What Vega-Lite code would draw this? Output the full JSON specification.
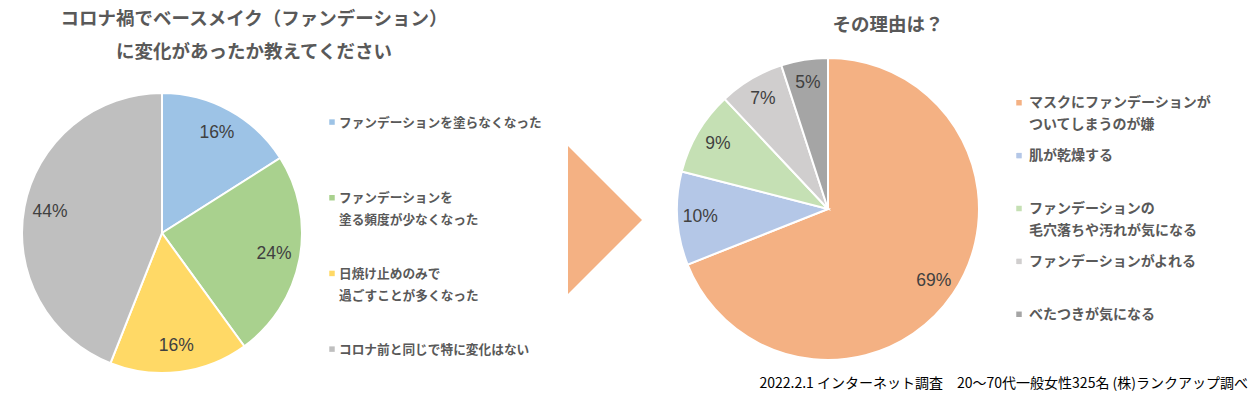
{
  "$schema": "https://vega.github.io/schema/vega-lite/v6.json",
  "padding": {"left": 0, "top": 9, "right": 8, "bottom": 0},
  "background": "white",
  "bounds": "flush",
  "spacing": 0,
  "datasets": {
    "left": [
      {"idx": 1, "cat": "ファンデーションを塗らなくなった", "value": 0.16},
      {"idx": 2, "cat": "ファンデーションを\n塗る頻度が少なくなった", "value": 0.24},
      {"idx": 3, "cat": "日焼け止めのみで\n過ごすことが多くなった", "value": 0.16},
      {"idx": 4, "cat": "コロナ前と同じで特に変化はない", "value": 0.44}
    ],
    "right": [
      {"idx": 1, "cat": "マスクにファンデーションが\nついてしまうのが嫌", "value": 0.69},
      {"idx": 2, "cat": "肌が乾燥する", "value": 0.10},
      {"idx": 3, "cat": "ファンデーションの\n毛穴落ちや汚れが気になる", "value": 0.09},
      {"idx": 4, "cat": "ファンデーションがよれる", "value": 0.07},
      {"idx": 5, "cat": "べたつきが気になる", "value": 0.05}
    ],
    "arrow": [{"item": "arrow"}]
  },
  "hconcat": [
    {
      "width": 324,
      "height": 324,
      "title": {
        "text": ["コロナ禍でベースメイク（ファンデーション）", "に変化があったか教えてください"],
        "fontSize": 18.5, "lineHeight": 33, "fontWeight": "bold", "color": "#595959",
        "font": "Noto Sans CJK JP", "offset": 10, "dx": 92, "frame": "group", "anchor": "middle"
      },
      "data": {"name": "left"},
      "encoding": {
        "theta": {"field": "value", "type": "quantitative", "stack": true},
        "order": {"field": "idx", "type": "quantitative"}
      },
      "layer": [
        {
          "mark": {"type": "arc", "outerRadius": 140, "stroke": "white", "strokeWidth": 2},
          "encoding": {
            "color": {
              "field": "cat", "type": "nominal", "legend": null,
              "scale": {
                "domain": ["ファンデーションを塗らなくなった", "ファンデーションを\n塗る頻度が少なくなった", "日焼け止めのみで\n過ごすことが多くなった", "コロナ前と同じで特に変化はない"],
                "range": ["#9DC3E6", "#A9D18E", "#FFD966", "#BFBFBF"]
              }
            }
          }
        },
        {
          "mark": {"type": "text", "radius": 114, "fontSize": 17.5, "font": "Liberation Sans", "color": "#404040"},
          "encoding": {"text": {"field": "value", "type": "quantitative", "format": ".0%"}}
        }
      ]
    },
    {
      "width": 236,
      "height": 300,
      "data": {"name": "left"},
      "encoding": {
        "y": {"field": "idx", "type": "ordinal", "axis": null, "scale": {"type": "point", "padding": 0.482, "align": 0.7}}
      },
      "layer": [
        {
          "mark": {"type": "point", "shape": "square", "filled": true, "size": 30, "opacity": 1, "xOffset": -110},
          "encoding": {
            "color": {
              "field": "cat", "type": "nominal", "legend": null,
              "scale": {
                "domain": ["ファンデーションを塗らなくなった", "ファンデーションを\n塗る頻度が少なくなった", "日焼け止めのみで\n過ごすことが多くなった", "コロナ前と同じで特に変化はない"],
                "range": ["#9DC3E6", "#A9D18E", "#FFD966", "#BFBFBF"]
              }
            }
          }
        },
        {
          "mark": {"type": "text", "align": "left", "baseline": "alphabetic", "dx": -103, "dy": 4.5, "fontSize": 12.7, "fontWeight": "bold", "color": "#595959", "font": "Noto Sans CJK JP", "lineBreak": "\n", "lineHeight": 22},
          "encoding": {"text": {"field": "cat"}}
        }
      ]
    },
    {
      "width": 90,
      "height": 298,
      "data": {"name": "arrow"},
      "mark": {"type": "point", "shape": "M-0.5,-1L0.5,0L-0.5,1Z", "size": 21904, "filled": true, "color": "#F4B183", "opacity": 1},
      "encoding": {}
    },
    {
      "width": 356,
      "height": 276,
      "title": {
        "text": "その理由は？",
        "fontSize": 18.5, "fontWeight": "bold", "color": "#595959",
        "font": "Noto Sans CJK JP", "offset": 20, "dx": 60, "frame": "group", "anchor": "middle"
      },
      "data": {"name": "right"},
      "encoding": {
        "theta": {"field": "value", "type": "quantitative", "stack": true},
        "order": {"field": "idx", "type": "quantitative"}
      },
      "layer": [
        {
          "mark": {"type": "arc", "outerRadius": 151, "stroke": "white", "strokeWidth": 2},
          "encoding": {
            "color": {
              "field": "cat", "type": "nominal", "legend": null,
              "scale": {
                "domain": ["マスクにファンデーションが\nついてしまうのが嫌", "肌が乾燥する", "ファンデーションの\n毛穴落ちや汚れが気になる", "ファンデーションがよれる", "べたつきが気になる"],
                "range": ["#F4B183", "#B4C7E7", "#C5E0B4", "#D0CECE", "#A5A5A5"]
              }
            }
          }
        },
        {
          "mark": {"type": "text", "radius": 128, "fontSize": 17.5, "font": "Liberation Sans", "color": "#404040"},
          "encoding": {"text": {"field": "value", "type": "quantitative", "format": ".0%"}}
        }
      ]
    },
    {
      "width": 242,
      "height": 275,
      "title": {
        "text": "2022.2.1 インターネット調査　20～70代一般女性325名 (株)ランクアップ調べ",
        "orient": "bottom", "anchor": "end", "frame": "group", "offset": 31,
        "fontSize": 14, "fontWeight": "normal", "color": "#000000", "font": "Noto Sans CJK JP"
      },
      "data": {"name": "right"},
      "encoding": {
        "y": {"field": "idx", "type": "ordinal", "axis": null, "scale": {"type": "point", "padding": 0.6, "align": 0.5}}
      },
      "layer": [
        {
          "mark": {"type": "point", "shape": "square", "filled": true, "size": 30, "opacity": 1, "xOffset": -108},
          "encoding": {
            "color": {
              "field": "cat", "type": "nominal", "legend": null,
              "scale": {
                "domain": ["マスクにファンデーションが\nついてしまうのが嫌", "肌が乾燥する", "ファンデーションの\n毛穴落ちや汚れが気になる", "ファンデーションがよれる", "べたつきが気になる"],
                "range": ["#F4B183", "#B4C7E7", "#C5E0B4", "#D0CECE", "#A5A5A5"]
              }
            }
          }
        },
        {
          "mark": {"type": "text", "align": "left", "baseline": "alphabetic", "dx": -98, "dy": 4.5, "fontSize": 14, "fontWeight": "bold", "color": "#595959", "font": "Noto Sans CJK JP", "lineBreak": "\n", "lineHeight": 22},
          "encoding": {"text": {"field": "cat"}}
        }
      ]
    }
  ],
  "resolve": {"scale": {"color": "independent", "theta": "independent", "y": "independent"}},
  "config": {
    "view": {"stroke": null},
    "font": "Noto Sans CJK JP"
  }
}
